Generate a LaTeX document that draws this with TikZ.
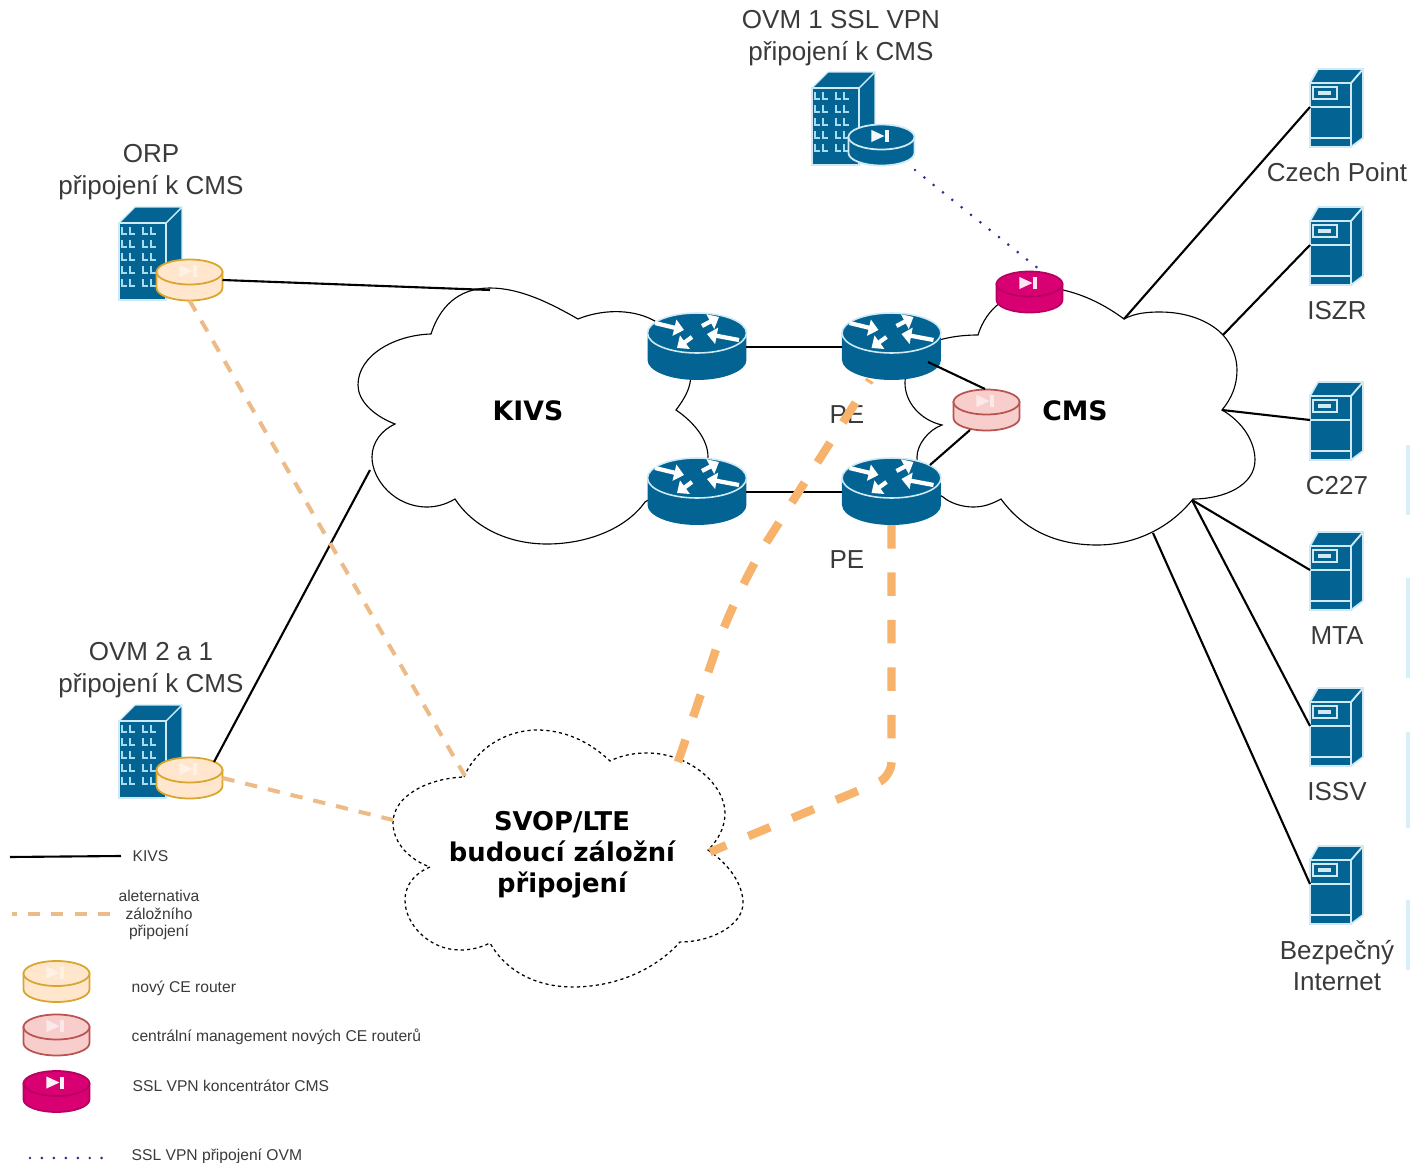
\documentclass[tikz,border=0pt]{standalone}
\usepackage{fontspec}
\setmainfont{Liberation Sans}
\newfontfamily\cloudfont{DejaVu Sans}
\usetikzlibrary{arrows.meta}

\definecolor{ciscoblue}{HTML}{036494}
\definecolor{ciscorim}{HTML}{CFEAF4}
\definecolor{windowblue}{HTML}{A8DCF0}
\definecolor{cetan}{HTML}{FFE6CC}
\definecolor{cetanline}{HTML}{D9A52B}
\definecolor{cepink}{HTML}{F8CECC}
\definecolor{cepinkline}{HTML}{B85450}
\definecolor{cecrim}{HTML}{D80073}
\definecolor{cecrimline}{HTML}{B8005F}
\definecolor{altorange}{HTML}{F7B26C}
\definecolor{altthin}{HTML}{EDBB88}
\definecolor{sslnavy}{HTML}{2F2F90}
\definecolor{labelgrey}{HTML}{3A3A3A}
\definecolor{stripblue}{HTML}{D8EEF8}

% one row of building windows
\newcommand{\windowrow}[1]{
        \draw [windowblue, line width=0.42pt] (-0.29,#1) -- ++(0.00,-0.07) -- ++(0.05,0.00);
        \draw [windowblue, line width=0.42pt] (-0.21,#1) -- ++(0.00,-0.07) -- ++(0.05,0.00);
        \draw [windowblue, line width=0.42pt] (-0.08,#1) -- ++(0.00,-0.07) -- ++(0.05,0.00);
        \draw [windowblue, line width=0.42pt] (00.00,#1) -- ++(0.00,-0.07) -- ++(0.05,0.00);
}

\tikzset{
        blackline/.style={black, line width=0.60pt},
        cloudline/.style={black, line width=0.32pt, fill=white},
        svopline/.style={black, line width=0.36pt, fill=white, dash pattern=on 0.9pt off 0.9pt},
        altline/.style={altthin, line width=1.15pt, dash pattern=on 3.5pt off 3.15pt},
        altthick/.style={altorange, line width=2.40pt, dash pattern=on 6.7pt off 6.8pt, rounded corners=0.60cm},
        legdash/.style={altthin, line width=0.90pt, dash pattern=on 3.4pt off 3.2pt, dash phase=2pt},
        sslline/.style={sslnavy, line width=0.85pt, line cap=round, dash pattern=on 0pt off 3.4pt},
        namelabel/.style={labelgrey, inner sep=0pt, align=center, font=\fontsize{7.4}{8.9}\selectfont},
        cloudlabel/.style={black, inner sep=0pt, align=center, font=\cloudfont\bfseries\fontsize{7.6}{8.8}\selectfont},
        svoplabel/.style={black, inner sep=0pt, align=center, font=\cloudfont\bfseries\fontsize{7.35}{8.8}\selectfont},
        leglabel/.style={labelgrey, inner sep=0pt, align=center, font=\fontsize{4.45}{5.1}\selectfont},
        rtarrow/.style={white, line width=1.20pt, -{Triangle[length=2.8pt,width=4.6pt]}},
        pics/router/.style={code={
                \fill [ciscoblue] (-0.495,0.14) -- (-0.495,-0.13) .. controls (-0.495,-0.24) and (-0.27,-0.33) .. (0.00,-0.33) .. controls (0.27,-0.33) and (0.495,-0.24) .. (0.495,-0.13) -- (0.495,0.14) -- cycle;
                \draw [ciscorim, fill=ciscoblue, line width=0.45pt] (0.00,0.14) ellipse [x radius=0.495, y radius=0.20];
                \draw [rtarrow] (-0.42,0.24) -- (-0.13,0.17);
                \draw [rtarrow] (00.42,0.07) -- (00.10,0.13);
                \draw [rtarrow] (00.05,0.21) -- (00.22,0.30);
                \draw [rtarrow] (-0.05,0.10) -- (-0.20,-0.01);
                \coordinate (-w) at (-0.495,0.00);
                \coordinate (-e) at (00.495,0.00);
                \coordinate (-s) at (00.00,-0.33);
        }},
        pics/cerouter/.style n args={3}{code={
                \draw [#2, fill=#1, line width=0.50pt] (-0.33,0.08) -- (-0.33,-0.08) .. controls (-0.33,-0.15) and (-0.18,-0.205) .. (0.00,-0.205) .. controls (0.18,-0.205) and (0.33,-0.15) .. (0.33,-0.08) -- (0.33,0.08) -- cycle;
                \draw [#2, fill=#1, line width=0.50pt] (0.00,0.08) ellipse [x radius=0.33, y radius=0.125];
                \fill [white, fill opacity=#3] (-0.10,0.15) -- (-0.10,0.03) -- (0.03,0.09) -- cycle;
                \fill [white, fill opacity=#3] (00.04,0.15) rectangle (0.07,0.03);
                \coordinate (-e) at (00.33,0.00);
                \coordinate (-s) at (00.00,-0.205);
        }},
        pics/building/.style={code={
                \draw [ciscorim, fill=ciscoblue, line width=0.40pt, line join=round] (0.15,0.31) -- (0.31,0.47) -- (0.31,-0.30) -- (0.15,-0.46) -- cycle;
                \draw [ciscorim, fill=ciscoblue, line width=0.40pt, line join=round] (-0.32,0.31) -- (-0.16,0.47) -- (0.31,0.47) -- (0.15,0.31) -- cycle;
                \draw [ciscorim, fill=ciscoblue, line width=0.40pt] (-0.32,0.31) rectangle (0.15,-0.46);
                \windowrow{00.27}
                \windowrow{00.14}
                \windowrow{00.01}
                \windowrow{-0.12}
                \windowrow{-0.25}
        }},
        pics/server/.style={code={
                \draw [ciscorim, fill=ciscoblue, line width=0.50pt, line join=round] (0.14,0.25) -- (0.26,0.39) -- (0.26,-0.30) -- (0.14,-0.39) -- cycle;
                \draw [ciscorim, fill=ciscoblue, line width=0.50pt, line join=round] (-0.27,0.25) -- (-0.19,0.39) -- (0.26,0.39) -- (0.14,0.25) -- cycle;
                \draw [ciscorim, fill=ciscoblue, line width=0.50pt] (-0.27,0.25) rectangle (0.14,-0.39);
                \draw [ciscorim, line width=0.50pt] (-0.27,0.01) -- (0.14,0.01);
                \draw [ciscorim, line width=0.50pt] (-0.27,-0.30) -- (0.14,-0.30);
                \draw [ciscorim, line width=0.50pt] (-0.24,0.21) rectangle (0.00,0.09);
                \fill [ciscorim] (-0.19,0.17) rectangle (-0.06,0.13);
                \coordinate (-w) at (-0.27,0.01);
        }}
}

\begin{document}
\begin{tikzpicture}

        \useasboundingbox (00.00,00.00) rectangle (14.10,-11.63);

        % Strips at the right edge
        \fill [stripblue] (14.06,-04.45) rectangle (14.10,-05.15);
        \fill [stripblue] (14.06,-05.78) rectangle (14.10,-06.78);
        \fill [stripblue] (14.06,-07.32) rectangle (14.10,-08.28);
        \fill [stripblue] (14.06,-09.00) rectangle (14.10,-09.70);

        % KIVS cloud
        \draw [cloudline] (04.31,-03.34)
                .. controls (04.42,-03.00) and (04.65,-02.88) .. (04.90,-02.88)
                .. controls (05.20,-02.88) and (05.50,-03.03) .. (05.78,-03.19)
                .. controls (06.00,-03.10) and (06.30,-03.08) .. (06.53,-03.20)
                .. controls (06.80,-03.35) and (06.95,-03.60) .. (06.90,-03.83)
                .. controls (06.88,-03.93) and (06.82,-04.02) .. (06.76,-04.10)
                .. controls (06.95,-04.23) and (07.08,-04.40) .. (07.08,-04.57)
                .. controls (07.05,-04.70) and (06.65,-04.90) .. (06.45,-05.02)
                .. controls (06.25,-05.30) and (05.85,-05.44) .. (05.47,-05.44)
                .. controls (05.05,-05.44) and (04.72,-05.25) .. (04.55,-04.99)
                .. controls (04.45,-05.05) and (04.35,-05.07) .. (04.27,-05.07)
                .. controls (03.95,-05.07) and (03.72,-04.80) .. (03.72,-04.57)
                .. controls (03.72,-04.42) and (03.82,-04.30) .. (03.95,-04.24)
                .. controls (03.72,-04.15) and (03.58,-04.00) .. (03.58,-03.85)
                .. controls (03.58,-03.55) and (03.95,-03.35) .. (04.31,-03.34) -- cycle;

        % CMS cloud
        \draw [cloudline] (11.24,-03.19)
                .. controls (11.35,-03.13) and (11.48,-03.12) .. (11.60,-03.12)
                .. controls (11.90,-03.12) and (12.12,-03.23) .. (12.23,-03.35)
                .. controls (12.32,-03.45) and (12.37,-03.57) .. (12.37,-03.70)
                .. controls (12.37,-03.85) and (12.32,-03.98) .. (12.22,-04.10)
                .. controls (12.43,-04.22) and (12.55,-04.42) .. (12.55,-04.60)
                .. controls (12.55,-04.85) and (12.25,-04.99) .. (11.93,-04.99)
                .. controls (11.70,-05.28) and (11.35,-05.45) .. (10.97,-05.45)
                .. controls (10.50,-05.45) and (10.20,-05.25) .. (10.01,-04.99)
                .. controls (09.90,-05.05) and (09.82,-05.07) .. (09.73,-05.07)
                .. controls (09.62,-05.07) and (09.50,-05.03) .. (09.43,-04.97)
                .. controls (09.30,-04.90) and (09.17,-04.75) .. (09.17,-04.57)
                .. controls (09.17,-04.45) and (09.28,-04.30) .. (09.42,-04.25)
                .. controls (09.20,-04.20) and (09.05,-04.02) .. (09.05,-03.83)
                .. controls (09.05,-03.60) and (09.25,-03.43) .. (09.43,-03.39)
                .. controls (09.55,-03.36) and (09.67,-03.35) .. (09.78,-03.35)
                .. controls (09.82,-03.22) and (09.90,-03.10) .. (10.00,-03.03)
                .. controls (10.15,-02.85) and (10.40,-02.85) .. (10.63,-02.90)
                .. controls (10.85,-02.95) and (11.05,-03.05) .. (11.24,-03.19) -- cycle;

        % SVOP/LTE cloud
        \draw [svopline] (04.64,-07.77)
                .. controls (04.75,-07.50) and (05.05,-07.30) .. (05.37,-07.30)
                .. controls (05.65,-07.30) and (05.90,-07.42) .. (06.10,-07.61)
                .. controls (06.22,-07.55) and (06.35,-07.53) .. (06.47,-07.53)
                .. controls (06.90,-07.53) and (07.25,-07.85) .. (07.25,-08.13)
                .. controls (07.25,-08.28) and (07.18,-08.40) .. (07.08,-08.50)
                .. controls (07.30,-08.65) and (07.43,-08.85) .. (07.43,-09.03)
                .. controls (07.43,-09.25) and (07.12,-09.42) .. (06.80,-09.42)
                .. controls (06.55,-09.70) and (06.15,-09.87) .. (05.73,-09.87)
                .. controls (05.35,-09.87) and (05.05,-09.70) .. (04.90,-09.43)
                .. controls (04.80,-09.48) and (04.70,-09.50) .. (04.60,-09.50)
                .. controls (04.30,-09.50) and (04.05,-09.25) .. (04.05,-09.00)
                .. controls (04.05,-08.85) and (04.15,-08.73) .. (04.30,-08.67)
                .. controls (04.10,-08.60) and (03.93,-08.43) .. (03.93,-08.23)
                .. controls (03.93,-07.95) and (04.30,-07.78) .. (04.64,-07.77) -- cycle;

        % Cloud names
        \node (kivsname) [cloudlabel] at (05.28,-04.11) {KIVS};
        \node (cmsname) [cloudlabel] at (10.75,-04.11) {CMS};
        \node (svopname) [svoplabel] at (05.62,-08.55) {SVOP/LTE\\budoucí záložní\\připojení};

        % Routers
        \pic (kivsone) at (06.97,-03.47) {router};
        \pic (kivstwo) at (06.97,-04.92) {router};
        \pic (peone) at (08.915,-03.47) {router};
        \pic (petwo) at (08.915,-04.92) {router};
        \node (peonename) [namelabel] at (08.47,-04.15) {PE};
        \node (petwoname) [namelabel] at (08.47,-05.60) {PE};

        % CMS routers
        \pic (cmspink) at (09.865,-04.10) {cerouter={cepink}{cepinkline}{0.55}};
        \pic (cmscrim) at (10.295,-02.92) {cerouter={cecrim}{cecrimline}{0.90}};

        % ORP
        \node (orpname) [namelabel] at (01.51,-01.72) {ORP\\připojení k CMS};
        \pic (orp) at (01.51,-02.54) {building};
        \pic (orpce) at (01.895,-02.80) {cerouter={cetan}{cetanline}{0.50}};

        % OVM 2 a 1
        \node (ovmtwoname) [namelabel] at (01.51,-06.70) {OVM 2 a 1\\připojení k CMS};
        \pic (ovmtwo) at (01.51,-07.52) {building};
        \pic (ovmtwoce) at (01.895,-07.78) {cerouter={cetan}{cetanline}{0.50}};

        % OVM 1
        \node (ovmonename) [namelabel] at (08.41,-00.38) {OVM 1 SSL VPN\\připojení k CMS};
        \pic (ovmone) at (08.44,-01.19) {building};
        \pic (ovmonece) at (08.815,-01.45) {cerouter={ciscoblue}{ciscorim}{0.95}};

        % Servers
        \pic (czech) at (13.37,-01.08) {server};
        \pic (iszr) at (13.37,-02.46) {server};
        \pic (ctwo) at (13.37,-04.21) {server};
        \pic (mta) at (13.37,-05.71) {server};
        \pic (issv) at (13.37,-07.27) {server};
        \pic (inet) at (13.37,-08.85) {server};
        \node (czechname) [namelabel] at (13.37,-01.72) {Czech Point};
        \node (iszrname) [namelabel] at (13.37,-03.11) {ISZR};
        \node (ctwoname) [namelabel] at (13.37,-04.86) {C227};
        \node (mtaname) [namelabel] at (13.37,-06.36) {MTA};
        \node (issvname) [namelabel] at (13.37,-07.92) {ISSV};
        \node (inetname) [namelabel] at (13.37,-09.655) {Bezpečný\\Internet};

        % Free ends on the clouds
        \coordinate (kivstop) at (04.90,-02.90);
        \coordinate (kivswest) at (03.70,-04.70);
        \coordinate (cmsne) at (11.24,-03.19);
        \coordinate (cmseast) at (12.23,-03.35);
        \coordinate (cmsnotch) at (12.22,-04.10);
        \coordinate (cmsse) at (11.92,-05.00);
        \coordinate (cmssouth) at (11.53,-05.33);
        \coordinate (svopnw) at (04.65,-07.76);
        \coordinate (svopwest) at (03.93,-08.20);
        \coordinate (svopne) at (06.78,-07.62);
        \coordinate (svopeast) at (07.10,-08.52);

        % Bends of the backup lines
        \coordinate (altbendone) at (07.36,-05.90);
        \coordinate (altendone) at (08.70,-03.80);
        \coordinate (altbendtwo) at (08.915,-07.77);

        % ORP -- KIVS, OVM 2 a 1 -- KIVS
        \draw [blackline] (orpce-e) -- (kivstop);
        \coordinate (ovmtwoline) at (02.14,-07.62);
        \draw [blackline] (ovmtwoline) -- (kivswest);

        % Routers
        \draw [blackline] (kivsone-e) -- (peone-w);
        \draw [blackline] (kivstwo-e) -- (petwo-w);
        \coordinate (peonedot) at (09.28,-03.62);
        \coordinate (petwodot) at (09.30,-04.65);
        \coordinate (pinktop) at (09.85,-03.89);
        \coordinate (pinkfoot) at (09.70,-04.30);
        \draw [blackline] (peonedot) -- (pinktop);
        \draw [blackline] (petwodot) -- (pinkfoot);

        % CMS -- servers
        \draw [blackline] (cmsne) -- (czech-w);
        \draw [blackline] (cmseast) -- (iszr-w);
        \draw [blackline] (cmsnotch) -- (ctwo-w);
        \draw [blackline] (cmsse) -- (mta-w);
        \draw [blackline] (cmsse) -- (issv-w);
        \draw [blackline] (cmssouth) -- (inet-w);

        % Backup lines
        \draw [altline] (orpce-s) -- (svopnw);
        \draw [altline] (ovmtwoce-e) -- (svopwest);
        \draw [altthick] (svopne) -- (altbendone) -- (altendone);
        \draw [altthick, rounded corners=0.15cm] (petwo-s) -- (altbendtwo) -- (svopeast);

        % OVM 1 -- SSL VPN
        \coordinate (sslstart) at (09.15,-01.70);
        \coordinate (sslend) at (10.40,-02.70);
        \draw [sslline] (sslstart) -- (sslend);

        % Legend
        \coordinate (legkivsa) at (00.10,-08.57);
        \coordinate (legkivsb) at (01.21,-08.56);
        \draw [blackline] (legkivsa) -- (legkivsb);
        \node (legkivs) [leglabel, anchor=west] at (01.32,-08.56) {KIVS};

        \coordinate (legalta) at (00.12,-09.14);
        \coordinate (legaltb) at (01.12,-09.14);
        \draw [legdash] (legalta) -- (legaltb);
        \node (legalt) [leglabel] at (01.59,-09.15) {aleternativa\\záložního\\připojení};

        \pic (legtan) at (00.565,-09.815) {cerouter={cetan}{cetanline}{0.50}};
        \node (legtanname) [leglabel, anchor=west] at (01.31,-09.88) {nový CE router};

        \pic (legpink) at (00.565,-10.35) {cerouter={cepink}{cepinkline}{0.55}};
        \node (legpinkname) [leglabel, anchor=west] at (01.31,-10.37) {centrální management nových CE routerů};

        \pic (legcrim) at (00.565,-10.915) {cerouter={cecrim}{cecrimline}{0.95}};
        \node (legcrimname) [leglabel, anchor=west] at (01.32,-10.86) {SSL VPN koncentrátor CMS};

        \coordinate (legssla) at (00.30,-11.58);
        \coordinate (legsslb) at (01.12,-11.58);
        \draw [sslline] (legssla) -- (legsslb);
        \node (legsslname) [leglabel, anchor=west] at (01.31,-11.56) {SSL VPN připojení OVM};

\end{tikzpicture}
\end{document}
